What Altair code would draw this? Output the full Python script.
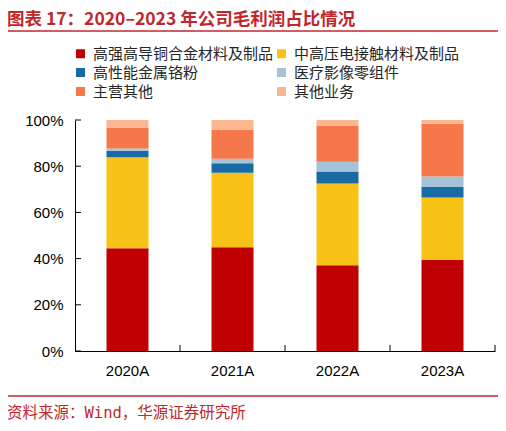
import altair as alt
import pandas as pd

# ---------------- data ----------------
years = ["2020A", "2021A", "2022A", "2023A"]
categories = [
    "高强高导铜合金材料及制品",
    "中高压电接触材料及制品",
    "高性能金属铬粉",
    "医疗影像零组件",
    "主营其他",
    "其他业务",
]
colors = ["#C00000", "#F8C115", "#1A6AA4", "#A4C2D8", "#F4784A", "#FBB890"]

copper_alloy = [44.5, 44.9, 37.1, 39.4]
contact_material = [39.4, 32.3, 35.4, 27.0]
chromium_powder = [2.8, 4.1, 5.2, 4.6]
medical_parts = [1.0, 1.9, 4.2, 4.5]
main_other = [9.0, 12.7, 15.5, 22.9]
other_business = [3.3, 4.1, 2.6, 1.6]

series = [copper_alloy, contact_material, chromium_powder,
          medical_parts, main_other, other_business]

y_ticks = [0, 0.2, 0.4, 0.6, 0.8, 1.0]

title_text = "图表 17：2020–2023 年公司毛利润占比情况"
source_text = "资料来源：Wind，华源证券研究所"

# ---------------- tables ----------------
rows = []
for ci, (cat, vals) in enumerate(zip(categories, series)):
    for y, v in zip(years, vals):
        rows.append({"year": y, "cat": cat, "value": v, "idx": ci})
df = pd.DataFrame(rows)
ytick_df = pd.DataFrame({"t": y_ticks})
year_df = pd.DataFrame({"year": years})
title_df = pd.DataFrame({"t": [title_text]})
source_df = pd.DataFrame({"t": [source_text]})
one_df = pd.DataFrame({"k": [0]})

RED = "#C0272D"
W, H = 420, 231

xscale = alt.Scale(domain=years, paddingInner=0, paddingOuter=0)
yscale = alt.Scale(domain=[0, 1])

xaxis = alt.Axis(title=None, labelAngle=0, ticks=False, domainColor="#000000",
                 domainWidth=1, labelPadding=12, labelFontSize=15,
                 labelColor="#000000", labelFont="Liberation Sans")
yaxis = alt.Axis(title=None, values=y_ticks, format=".0%", grid=False,
                 ticks=False, domainColor="#000000", domainWidth=1,
                 labelPadding=12, labelFontSize=15, labelColor="#000000",
                 labelFont="Liberation Sans")

bars = alt.Chart(df).mark_bar(width=alt.RelativeBandSize(0.4)).encode(
    x=alt.X("year:N", sort=years, scale=xscale, axis=xaxis),
    y=alt.Y("value:Q", stack="normalize", scale=yscale, axis=yaxis),
    color=alt.Color(
        "cat:N",
        scale=alt.Scale(domain=categories, range=colors),
        legend=alt.Legend(
            title=None, orient="none", legendX=-2, legendY=-74,
            columns=2, direction="horizontal", symbolType="square",
            symbolSize=81, symbolStrokeWidth=0, labelFontSize=15,
            labelFont="Noto Sans CJK SC", labelColor="#262626",
            labelLimit=300, labelOffset=5, columnPadding=-11,
            rowPadding=3, padding=0,
        ),
    ),
    order=alt.Order("idx:Q", sort="ascending"),
)

ytick_marks = alt.Chart(ytick_df).mark_rule(color="#000000", strokeWidth=1).encode(
    y=alt.Y("t:Q", scale=yscale, axis=yaxis),
    x=alt.value(0),
    x2=alt.value(6),
)

xtick_marks = alt.Chart(year_df).mark_rule(color="#000000", strokeWidth=1).encode(
    x=alt.X("year:N", sort=years, scale=xscale, axis=xaxis, bandPosition=1),
    y=alt.value(H),
    y2=alt.value(H - 6),
)

title = alt.Chart(title_df).mark_text(
    align="left", baseline="middle", fontSize=17.5, fontWeight="bold",
    color=RED, font="Noto Sans CJK SC",
).encode(x=alt.value(-68), y=alt.value(-100), text="t:N")

top_line = alt.Chart(one_df).mark_rule(color=RED, strokeWidth=1.5).encode(
    x=alt.value(-70), x2=alt.value(423), y=alt.value(-89)
)
bottom_line = alt.Chart(one_df).mark_rule(color=RED, strokeWidth=1.5).encode(
    x=alt.value(-70), x2=alt.value(423), y=alt.value(276)
)

source = alt.Chart(source_df).mark_text(
    align="left", baseline="middle", fontSize=15.5,
    color=RED, font="DejaVu Sans Mono, Noto Sans CJK SC",
).encode(x=alt.value(-68), y=alt.value(293), text="t:N")

chart = alt.layer(
    bars, ytick_marks, xtick_marks, title, top_line, bottom_line, source
).properties(
    width=W, height=H,
    padding={"left": 67, "top": 112, "right": 3, "bottom": 72},
    autosize=alt.AutoSizeParams(type="none"),
).configure_view(stroke=None)

chart.save("out.html", embed_options={"renderer": "svg", "actions": False})
